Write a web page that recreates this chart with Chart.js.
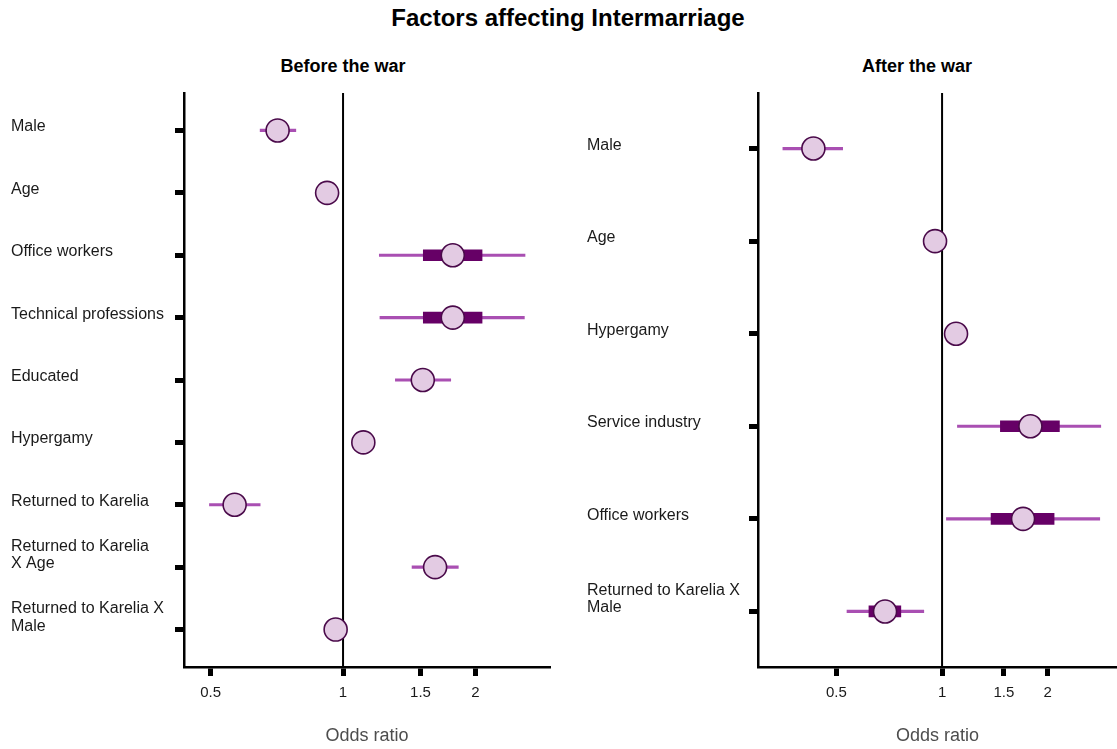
<!DOCTYPE html>
<html>
<head>
<meta charset="utf-8">
<script src="https://cdn.jsdelivr.net/npm/chart.js@4.4.1/dist/chart.umd.min.js"></script>
<style>
  html, body { margin: 0; padding: 0; background: #fff; }
  body { width: 1117px; height: 749px; position: relative; overflow: hidden;
         font-family: 'Liberation Sans', Arial, sans-serif; }
  .ttl { position: absolute; white-space: nowrap; line-height: 1; transform: translateX(-50%); color: #000; font-weight: bold; }
  #main-title { font-size: 24px; left: 568px; top: 6px; }
  .panel-title { font-size: 18px; top: 57px; }
  .panel { position: absolute; top: 0; height: 749px; }
  #left-panel { left: 0; width: 560px; }
  #right-panel { left: 560px; width: 557px; }
</style>
</head>
<body>
<div id="main-title" class="ttl">Factors affecting Intermarriage</div>
<div class="ttl panel-title" style="left:343px">Before the war</div>
<div class="ttl panel-title" style="left:917px">After the war</div>
<div id="left-panel" class="panel"><canvas id="before"></canvas></div>
<div id="right-panel" class="panel"><canvas id="after"></canvas></div>

<script>
// ---------- Data: before the war ----------
const beforeLabels = [
  ['Male'], ['Age'], ['Office workers'], ['Technical professions'], ['Educated'],
  ['Hypergamy'], ['Returned to Karelia'], ['Returned to Karelia', 'X Age'], ['Returned to Karelia X', 'Male']
];
const beforeEst  = [0.710, 0.920, 1.776, 1.776, 1.518, 1.112, 0.567, 1.619, 0.962];
const beforeLo95 = [0.648, 0.895, 1.209, 1.213, 1.315, 1.085, 0.497, 1.435, 0.935];
const beforeHi95 = [0.781, 0.945, 2.592, 2.583, 1.757, 1.140, 0.648, 1.828, 0.990];
const beforeLo50 = [0.685, 0.905, 1.522, 1.522, 1.470, 1.095, 0.545, 1.560, 0.945];
const beforeHi50 = [0.735, 0.935, 2.070, 2.070, 1.570, 1.128, 0.588, 1.680, 0.978];

// ---------- Data: after the war ----------
const afterLabels = [
  ['Male'], ['Age'], ['Hypergamy'], ['Service industry'], ['Office workers'], ['Returned to Karelia X', 'Male']
];
const afterEst  = [0.430, 0.955, 1.096, 1.785, 1.701, 0.688];
const afterLo95 = [0.352, 0.930, 1.070, 1.106, 1.029, 0.536];
const afterHi95 = [0.521, 0.980, 1.125, 2.832, 2.813, 0.887];
const afterLo50 = [0.410, 0.940, 1.080, 1.466, 1.379, 0.619];
const afterHi50 = [0.450, 0.970, 1.112, 2.159, 2.085, 0.763];

const xTicks = [0.5, 1, 1.5, 2];

// ---------- Styles ----------
const FONT = "'Liberation Sans', Arial, sans-serif";
const thinColor = '#a94fb2';
const thickColor = '#660066';
const dotFill = '#e3cbe3';
const dotBorder = '#4a0a4a';

Chart.defaults.font.family = FONT;
Chart.defaults.color = '#1a1a1a';

// draws the row labels left-aligned, last line sitting on the tick
const rowLabels = {
  id: 'rowLabels',
  afterDraw(chart, args, opts){
    const { ctx } = chart;
    const y = chart.scales.y;
    ctx.save();
    ctx.font = `16px ${FONT}`;
    ctx.fillStyle = '#1a1a1a';
    ctx.textAlign = 'left';
    ctx.textBaseline = 'alphabetic';
    opts.labels.forEach((lines, i) => {
      const py = y.getPixelForValue(i);
      lines.forEach((ln, j) => {
        ctx.fillText(ln, opts.x, py + 1 - (lines.length - 1 - j) * 17.5);
      });
    });
    ctx.restore();
  }
};

function buildChart(id, cfg){
  const n = cfg.labels.length;
  const rows = cfg.est.map((_, i) => i);
  return new Chart(document.getElementById(id), {
    type: 'scatter',
    data: {
      datasets: [
        {
          type: 'scatter',
          data: rows.map(i => ({ x: cfg.est[i], y: i })),
          pointRadius: 11.5,
          pointHoverRadius: 11.5,
          pointBackgroundColor: dotFill,
          pointBorderColor: dotBorder,
          pointBorderWidth: 1.6,
          order: 0
        },
        {
          type: 'bar',
          indexAxis: 'y',
          grouped: false,
          data: rows.map(i => ({ x: [cfg.lo50[i], cfg.hi50[i]], y: i })),
          backgroundColor: thickColor,
          barThickness: 11,
          order: 1
        },
        {
          type: 'bar',
          indexAxis: 'y',
          grouped: false,
          data: rows.map(i => ({ x: [cfg.lo95[i], cfg.hi95[i]], y: i })),
          backgroundColor: thinColor,
          barThickness: 2.5,
          order: 2
        },
        {
          type: 'line',
          data: [{ x: 1, y: -0.6 }, { x: 1, y: n - 0.4 }],
          borderColor: '#000',
          borderWidth: 2,
          pointRadius: 0,
          order: 3
        }
      ]
    },
    options: {
      animation: false,
      responsive: true,
      maintainAspectRatio: false,
      layout: { autoPadding: false, padding: { left: 0, right: cfg.padRight, top: 93, bottom: 0 } },
      plugins: {
        legend: { display: false },
        tooltip: { enabled: false },
        rowLabels: { labels: cfg.labels, x: cfg.labelX }
      },
      scales: {
        x: {
          type: 'logarithmic',
          min: cfg.xMin,
          max: cfg.xMax,
          offset: false,
          afterBuildTicks: (s) => { s.ticks = xTicks.map(v => ({ value: v })); },
          afterFit: (s) => { s.height = 82; },
          ticks: {
            autoSkip: false,
            maxRotation: 0,
            padding: 8,
            font: { size: 15 },
            color: '#1a1a1a',
            callback: (v) => String(v)
          },
          grid: { drawOnChartArea: false, drawTicks: true, tickLength: 9, tickWidth: 5, tickColor: '#000', offset: false },
          border: { display: true, color: '#000', width: 2.5 },
          title: { display: true, text: 'Odds ratio', font: { size: 18 }, color: '#4d4d4d', padding: { top: 4, bottom: 2 } }
        },
        y: {
          type: 'linear',
          reverse: true,
          min: -0.6,
          max: n - 0.4,
          offset: false,
          afterBuildTicks: (s) => { s.ticks = rows.map(i => ({ value: i })); },
          afterFit: (s) => { s.width = cfg.axisLeft; },
          ticks: { autoSkip: false, callback: () => '' },
          grid: { drawOnChartArea: false, drawTicks: true, tickLength: 9, tickWidth: 5, tickColor: '#000', offset: false },
          border: { display: true, color: '#000', width: 2.5 }
        }
      }
    },
    plugins: [rowLabels]
  });
}

// ---------- Bootstrap ----------
buildChart('before', {
  labels: beforeLabels, est: beforeEst,
  lo95: beforeLo95, hi95: beforeHi95, lo50: beforeLo50, hi50: beforeHi50,
  xMin: 0.435, xMax: 2.954, axisLeft: 184, padRight: 10, labelX: 11
});

buildChart('after', {
  labels: afterLabels, est: afterEst,
  lo95: afterLo95, hi95: afterHi95, lo50: afterLo50, hi50: afterHi50,
  xMin: 0.299, xMax: 3.15, axisLeft: 198, padRight: 0, labelX: 27
});
</script>
</body>
</html>
